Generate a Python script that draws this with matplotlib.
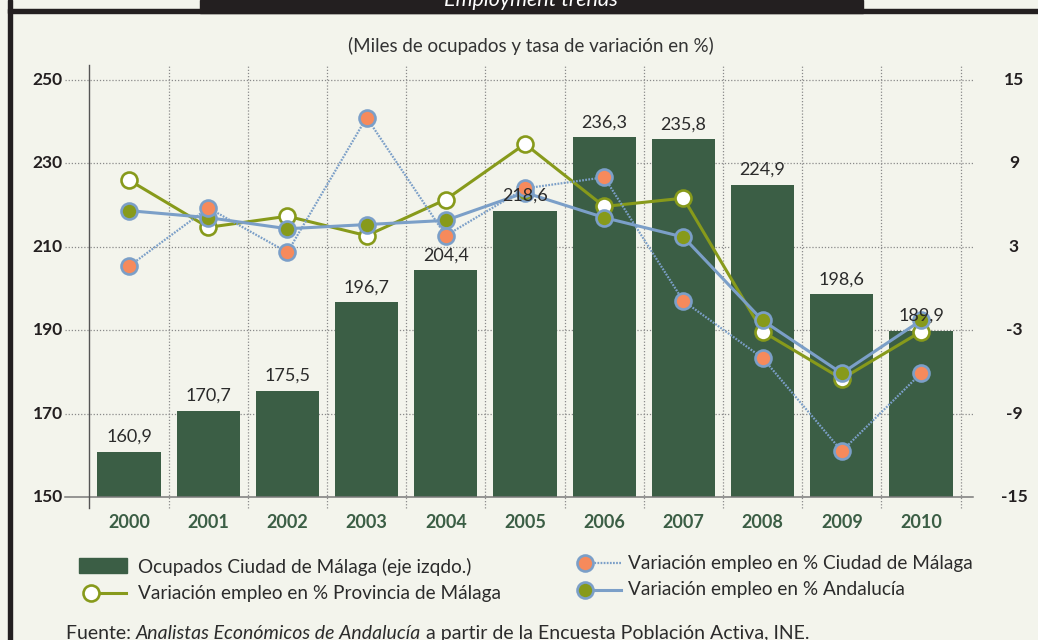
import matplotlib
matplotlib.use("Agg")
import matplotlib.pyplot as plt
from matplotlib.patches import Rectangle
from matplotlib.lines import Line2D

years = ["2000", "2001", "2002", "2003", "2004", "2005", "2006", "2007", "2008", "2009", "2010"]
ocupados = [160.9, 170.7, 175.5, 196.7, 204.4, 218.6, 236.3, 235.8, 224.9, 198.6, 189.9]
var_provincia = [7.8, 4.4, 5.2, 3.8, 6.4, 10.4, 5.9, 6.5, -3.1, -6.5, -3.1]
var_ciudad = [1.6, 5.8, 2.6, 12.3, 3.8, 7.2, 8.0, -0.9, -5.0, -11.7, -6.1]
var_andalucia = [5.6, 5.1, 4.3, 4.6, 4.9, 6.9, 5.1, 3.7, -2.3, -6.1, -2.3]
left_ticks = [150, 170, 190, 210, 230, 250]
right_ticks = [-15, -9, -3, 3, 9, 15]

BG = "#f3f4ec"
BAR = "#3b5e45"
OLIVE = "#879a1b"
ORANGE = "#f68a5c"
BLUE = "#7b9fc8"
DARK = "#231f20"
TXT = "#2b2b2b"
GRID = "#8a8a8a"
FONT = "Lato"

plt.rcParams["font.family"] = [FONT, "DejaVu Sans"]

W, H = 1038, 640
fig = plt.figure(figsize=(W / 100, H / 100), dpi=100, facecolor=BG)

def fx(px):
    return px / W

def fy(py):
    return 1 - py / H

# frame & header
fig.patches.append(Rectangle((fx(8), fy(640)), fx(4), 640 / H, transform=fig.transFigure, color=DARK, zorder=5))
fig.patches.append(Rectangle((fx(8), fy(13)), 1 - fx(8), 4 / H, transform=fig.transFigure, color=DARK, zorder=5))
fig.patches.append(Rectangle((fx(200), fy(13)), fx(663), 13 / H, transform=fig.transFigure, color=DARK, zorder=5))
fig.add_artist(Line2D([fx(8), fx(200)], [fy(8.5), fy(8.5)], transform=fig.transFigure, color="#9a9a9a", lw=0.8))
fig.add_artist(Line2D([fx(863), 1], [fy(8.5), fy(8.5)], transform=fig.transFigure, color="#9a9a9a", lw=0.8))
fig.text(fx(531), fy(6), "Employment trends", color="white", style="italic", fontsize=15.5,
         ha="center", va="baseline", zorder=6)

fig.text(fx(531), fy(46), "(Miles de ocupados y tasa de variación en %)", color="#333333",
         fontsize=13.5, ha="center", va="center")

# axes
x0, x1, y0, y1 = 89.4, 960.6, 80, 497
ax = fig.add_axes([fx(x0), fy(y1), fx(x1 - x0), (y1 - y0) / H])
ax.set_facecolor("none")
n = len(years)
xs = list(range(n))
ax.set_xlim(-0.5, n - 0.5)
ax.set_ylim(150, 250)
for s in ax.spines.values():
    s.set_visible(False)
ax.set_xticks([])
ax.set_yticks([])

ax2 = ax.twinx()
ax2.set_ylim(-15, 15)
for s in ax2.spines.values():
    s.set_visible(False)
ax2.set_yticks([])
ax2.set_xlim(-0.5, n - 0.5)
ax2.set_zorder(ax.get_zorder() + 1)
ax2.patch.set_visible(False)

# gridlines (extend beyond plot area)
ext_l = (65 - x0) / (x1 - x0)
ext_r = (973 - x0) / (x1 - x0)
ext_b = -(508 - y1) / (y1 - y0)
ext_t = 1 + (y0 - 65) / (y1 - y0)
ytr = ax.get_yaxis_transform()
xtr = ax.get_xaxis_transform()
for v in left_ticks:
    if v == 150:
        ax.plot([ext_l, ext_r], [v, v], transform=ytr, color="#7a7a7a", lw=1.1, clip_on=False, zorder=3)
    else:
        ax.plot([ext_l, ext_r], [v, v], transform=ytr, color=GRID, lw=0.9, ls=(0, (1, 1.5)), clip_on=False, zorder=0)
for i in range(n + 1):
    xv = i - 0.5
    if i == 0:
        ax.plot([xv, xv], [ext_b, ext_t], transform=xtr, color="#555555", lw=1.0, clip_on=False, zorder=3)
    else:
        ax.plot([xv, xv], [ext_b, ext_t], transform=xtr, color=GRID, lw=0.9, ls=(0, (1, 1.5)), clip_on=False, zorder=0)

# bars
ax.bar(xs, [v - 150 for v in ocupados], bottom=150, width=0.8, color=BAR, zorder=2)

# lines
ms, mew = 11.5, 1.9
ax2.plot(xs, var_provincia, color=OLIVE, lw=2.2, marker="o", ms=ms, mfc="white", mec=OLIVE, mew=mew, zorder=4)
ax2.plot(xs, var_andalucia, color=BLUE, lw=2.2, marker="o", ms=ms, mfc=OLIVE, mec=BLUE, mew=mew, zorder=5)
ax2.plot(xs, var_ciudad, color=BLUE, lw=1.6, ls=(0, (0.8, 0.6)), marker="o", ms=ms, mfc=ORANGE, mec=BLUE,
         mew=mew, zorder=6)

# bar value labels on top of everything
for x, v in zip(xs, ocupados):
    px, py = ax.transData.transform((x, v))
    fig.text(px / W, py / H + 7 / H, f"{v:.1f}".replace(".", ","), ha="center", va="bottom",
             fontsize=13, color=TXT, zorder=20)

# tick labels
for v in left_ticks:
    ax.text((63 - x0) / (x1 - x0), v, str(v), transform=ytr, ha="right", va="center",
            fontsize=12.5, fontweight="bold", color=DARK)
ytr2 = ax2.get_yaxis_transform()
for v in right_ticks:
    ax2.text((1014 - x0) / (x1 - x0), v, str(v), transform=ytr2, ha="center", va="center",
             fontsize=12.5, fontweight="bold", color=DARK)
for x, lab in zip(xs, years):
    ax.text(x, -(522 - y1) / (y1 - y0), lab, transform=xtr, ha="center", va="center",
            fontsize=13, fontweight="bold", color=BAR)

# legend (manual)
LFS = 13.7
fig.patches.append(Rectangle((fx(79), fy(573)), fx(48), 15 / H, transform=fig.transFigure, color=BAR))
fig.text(fx(138), fy(567), "Ocupados Ciudad de Málaga (eje izqdo.)", fontsize=LFS, color=TXT, va="center")
fig.add_artist(Line2D([fx(91), fx(126)], [fy(593), fy(593)], transform=fig.transFigure, color=OLIVE, lw=2.2))
fig.add_artist(Line2D([fx(91)], [fy(593)], transform=fig.transFigure, marker="o", ms=ms, mfc="white",
                      mec=OLIVE, mew=mew, ls="none"))
fig.text(fx(138), fy(593), "Variación empleo en % Provincia de Málaga", fontsize=LFS, color=TXT, va="center")

fig.add_artist(Line2D([fx(585), fx(621)], [fy(563), fy(563)], transform=fig.transFigure, color=BLUE, lw=1.6,
                      ls=(0, (0.8, 0.6))))
fig.add_artist(Line2D([fx(585)], [fy(563)], transform=fig.transFigure, marker="o", ms=ms, mfc=ORANGE,
                      mec=BLUE, mew=mew, ls="none"))
fig.text(fx(628), fy(563), "Variación empleo en % Ciudad de Málaga", fontsize=LFS, color=TXT, va="center")
fig.add_artist(Line2D([fx(585), fx(621)], [fy(590), fy(590)], transform=fig.transFigure, color=BLUE, lw=2.2))
fig.add_artist(Line2D([fx(585)], [fy(590)], transform=fig.transFigure, marker="o", ms=ms, mfc=OLIVE,
                      mec=BLUE, mew=mew, ls="none"))
fig.text(fx(628), fy(590), "Variación empleo en % Andalucía", fontsize=LFS, color=TXT, va="center")

# footer with mixed styles
FFS = 14
base = fy(639)
t1 = fig.text(fx(66), base, "Fuente: ", fontsize=FFS, color=TXT, va="baseline")
fig.canvas.draw()
r = fig.canvas.get_renderer()
bb = t1.get_window_extent(r)
t2 = fig.text(bb.x1 / W, base, "Analistas Económicos de Andalucía", fontsize=FFS, style="italic",
              color=TXT, va="baseline")
bb2 = t2.get_window_extent(r)
fig.text(bb2.x1 / W, base, " a partir de la Encuesta Población Activa, INE.", fontsize=FFS,
         color=TXT, va="baseline")

fig.savefig("out.png", dpi=100, facecolor=BG)
